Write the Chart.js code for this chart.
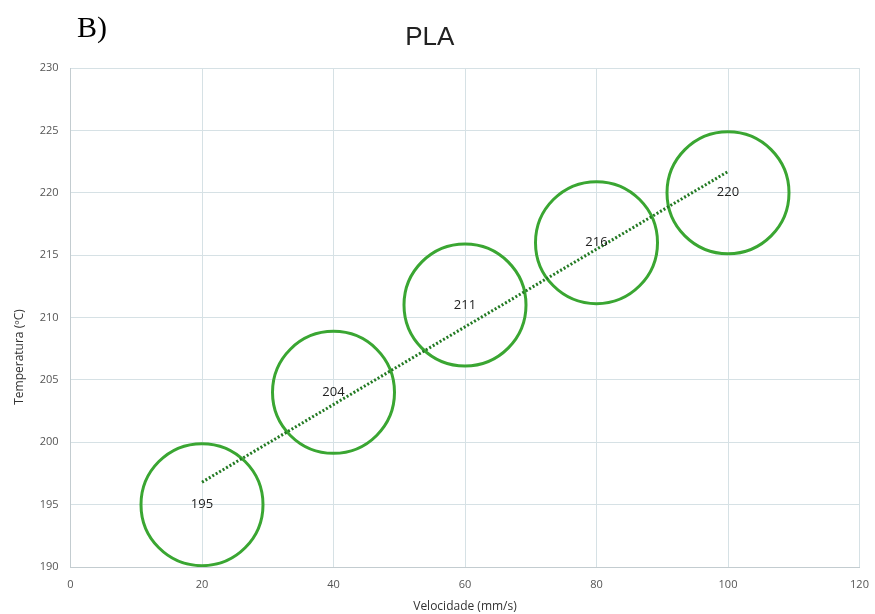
<!DOCTYPE html>
<html>
<head>
<meta charset="utf-8">
<script src="https://cdn.jsdelivr.net/npm/chart.js@4.4.1/dist/chart.umd.min.js"></script>
<style>
  html, body { margin: 0; padding: 0; background: #fff; }
  #wrap { width: 875px; height: 614px; }
</style>
</head>
<body>
<div id="wrap"><canvas id="plaChart" width="875" height="614"></canvas></div>
<script>
  // dados
  const velocidades = [20, 40, 60, 80, 100];
  const temperaturas = [195, 204, 211, 216, 220];
  const tendenciaX = [20, 100];
  const tendenciaY = [196.8, 221.7];
  const xTicks = [0, 20, 40, 60, 80, 100, 120];
  const yTicks = [190, 195, 200, 205, 210, 215, 220, 225, 230];

  const gridColor = "#d6e1e5";
  const tickFont = { family: "Open Sans", size: 11 };

  // rótulos no centro das bolhas
  const rotulosPlugin = {
    id: "rotulos",
    afterDatasetsDraw(chart) {
      const ctx = chart.ctx;
      const meta = chart.getDatasetMeta(1);
      ctx.save();
      ctx.font = "13px 'Open Sans'";
      ctx.fillStyle = "#222";
      ctx.textAlign = "center";
      ctx.textBaseline = "middle";
      meta.data.forEach(function (el, i) {
        ctx.fillText(String(temperaturas[i]), el.x, el.y);
      });
      ctx.restore();
    },
  };

  // "B)" e título do eixo Y
  const extrasPlugin = {
    id: "extras",
    afterDraw(chart) {
      const ctx = chart.ctx;
      ctx.save();
      ctx.font = "30px 'Liberation Serif'";
      ctx.fillStyle = "#000";
      ctx.textBaseline = "alphabetic";
      ctx.fillText("B)", 77, 37);

      ctx.translate(20, 357);
      ctx.rotate(-Math.PI / 2);
      ctx.font = "12px 'Open Sans'";
      ctx.fillStyle = "#333";
      ctx.textAlign = "center";
      ctx.textBaseline = "middle";
      ctx.fillText("Temperatura (ºC)", 0, 0);
      ctx.restore();
    },
  };

  const ctx = document.getElementById("plaChart");

  new Chart(ctx, {
    type: "bubble",
    data: {
      datasets: [
        {
          type: "line",
          label: "Tendência",
          data: tendenciaX.map((x, i) => ({ x: x, y: tendenciaY[i] })),
          borderColor: "#237a23",
          borderWidth: 3,
          borderDash: [2, 2],
          pointRadius: 0,
          fill: false,
          order: 0,
        },
        {
          label: "PLA",
          data: velocidades.map((x, i) => ({ x: x, y: temperaturas[i], r: 61 })),
          backgroundColor: "rgba(0,0,0,0)",
          borderColor: "#3aa632",
          borderWidth: 3,
          hoverBorderWidth: 3,
          order: 1,
        },
      ],
    },
    options: {
      responsive: false,
      animation: false,
      layout: { autoPadding: false, padding: { left: 0, right: 15.5, top: 0, bottom: 0 } },
      plugins: {
        legend: { display: false },
        tooltip: { enabled: false },
        title: {
          display: true,
          text: "PLA",
          color: "#222",
          font: { family: "Liberation Sans", size: 26, weight: "normal", lineHeight: 1.2 },
          padding: { top: 22.4, bottom: 14.4 },
        },
      },
      scales: {
        x: {
          type: "linear",
          min: 0,
          max: 120,
          afterBuildTicks: (s) => { s.ticks = xTicks.map((v) => ({ value: v })); },
          afterFit: (s) => { s.height = 47; s.paddingRight = 0; s.paddingLeft = 0; },
          grid: { color: gridColor, drawTicks: false },
          border: { color: "#c3ccd0", width: 1 },
          ticks: { color: "#555", font: tickFont, padding: 11 },
          title: {
            display: true,
            text: "Velocidade (mm/s)",
            color: "#333",
            font: { family: "Open Sans", size: 12 },
            padding: { top: 0, bottom: 0 },
          },
        },
        y: {
          type: "linear",
          min: 190,
          max: 230,
          afterBuildTicks: (s) => { s.ticks = yTicks.map((v) => ({ value: v })); },
          afterFit: (s) => { s.width = 70.5; },
          grid: { color: gridColor, drawTicks: false },
          border: { color: "#c3ccd0", width: 1 },
          ticks: { color: "#555", font: tickFont, padding: 12 },
        },
      },
    },
    plugins: [rotulosPlugin, extrasPlugin],
  });
</script>
</body>
</html>
